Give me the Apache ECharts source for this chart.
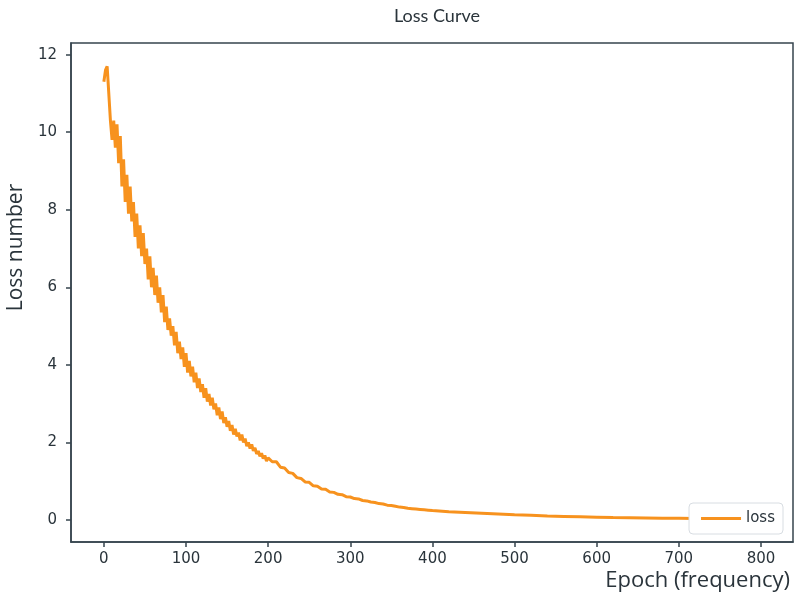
<!DOCTYPE html>
<html>
<head>
    <meta charset="utf-8"/>
    <title>Loss Curve</title>
    <script src="https://cdn.jsdelivr.net/npm/echarts@6/dist/echarts.min.js"></script>
</head>
<body style="margin:0">
<div id="main" style="width: 800px;height:608px;"></div>
<script type="text/javascript">
    // loss, one value every 2 epochs (0 .. 200)
    var lossEarly = [
        11.3, 11.6, 11.7, 11.0, 10.3, 9.8, 10.3, 9.6, 10.2, 9.2,
        9.9, 8.6, 9.3, 8.2, 8.9, 7.9, 8.6, 7.7, 8.2, 7.3,
        7.9, 7.0, 7.6, 6.8, 7.4, 6.6, 7.0, 6.2, 6.8, 6.0,
        6.5, 5.8, 6.3, 5.6, 6.0, 5.35, 5.8, 5.1, 5.5, 4.9,
        5.2, 4.75, 5.0, 4.5, 4.85, 4.3, 4.6, 4.15, 4.45, 3.95,
        4.3, 3.8, 4.1, 3.7, 3.95, 3.55, 3.8, 3.4, 3.65, 3.3,
        3.5, 3.15, 3.4, 3.05, 3.25, 2.95, 3.15, 2.85, 3.0, 2.7,
        2.9, 2.6, 2.8, 2.5, 2.65, 2.4, 2.55, 2.3, 2.45, 2.2,
        2.35, 2.15, 2.25, 2.05, 2.2, 2.0, 2.1, 1.9, 2.0, 1.84,
        1.95, 1.78, 1.86, 1.7, 1.78, 1.64, 1.72, 1.58, 1.66, 1.52,
        1.6
    ];
    // one value every 5 epochs (205 .. 400)
    var lossMid = [
        1.5, 1.5, 1.36, 1.34, 1.22, 1.2, 1.09, 1.07, 0.98, 0.97,
        0.88, 0.87, 0.8, 0.79, 0.72, 0.71, 0.66, 0.65, 0.6, 0.59,
        0.55, 0.54, 0.5, 0.49, 0.46, 0.45, 0.42, 0.41, 0.38, 0.37,
        0.35, 0.33, 0.32, 0.3, 0.29, 0.28, 0.27, 0.26, 0.25, 0.24
    ];
    // one value every 20 epochs (420 .. 800)
    var lossLate = [
        0.21, 0.19, 0.17, 0.15, 0.13, 0.12, 0.1, 0.09, 0.08, 0.07,
        0.06, 0.055, 0.05, 0.045, 0.04, 0.035, 0.032, 0.03, 0.028, 0.025
    ];
    var xTicks = [0, 100, 200, 300, 400, 500, 600, 700, 800];
    var yTicks = [0, 2, 4, 6, 8, 10, 12];

    var points = [];
    lossEarly.forEach(function (v, i) { points.push([i * 2, v]); });
    lossMid.forEach(function (v, i) { points.push([205 + i * 5, v]); });
    lossLate.forEach(function (v, i) { points.push([420 + i * 20, v]); });

    var axisColor = '#36444e';
    var textColor = '#2a343b';

    var myChart = echarts.init(document.getElementById('main'));
    var option = {
        backgroundColor: '#fff',
        animation: false,
        title: {
            text: 'Loss Curve',
            left: 432,
            top: 2,
            textAlign: 'center',
            textStyle: {fontFamily: 'Lato', fontWeight: 'normal', fontSize: 18, color: textColor}
        },
        grid: {
            left: 71, right: 7, top: 43, bottom: 66,
            containLabel: false,
            outerBoundsMode: 'none',
            show: true, borderColor: axisColor, borderWidth: 1.5
        },
        legend: {
            right: 17,
            top: 503,
            backgroundColor: '#fff',
            borderColor: '#d8dde2',
            borderWidth: 1,
            borderRadius: 4,
            padding: [8, 8, 8, 12],
            icon: 'rect',
            itemWidth: 40,
            itemHeight: 3,
            itemGap: 8,
            textStyle: {fontFamily: 'DejaVu Sans', fontSize: 15, color: textColor},
            data: ['loss']
        },
        xAxis: {
            type: 'value',
            min: -40,
            max: 839,
            name: 'Epoch (frequency)',
            nameLocation: 'end',
            nameGap: -3,
            nameTextStyle: {
                fontFamily: 'Open Sans', fontSize: 22, color: textColor,
                align: 'right', verticalAlign: 'top', padding: [28, 0, 0, 0]
            },
            axisLine: {show: true, onZero: false, lineStyle: {color: axisColor, width: 1.5}},
            axisTick: {show: true, length: 5, customValues: xTicks, lineStyle: {color: axisColor, width: 1.5}},
            splitLine: {show: false},
            axisLabel: {
                margin: 10,
                customValues: xTicks,
                fontFamily: 'DejaVu Sans', fontSize: 15, color: textColor
            }
        },
        yAxis: {
            type: 'value',
            min: -0.57,
            max: 12.3,
            name: 'Loss number',
            nameLocation: 'middle',
            nameGap: 44,
            nameTextStyle: {
                fontFamily: 'Open Sans', fontSize: 21, color: textColor,
                padding: [0, 0, 0, 90]
            },
            axisLine: {show: true, onZero: false, lineStyle: {color: axisColor, width: 1.5}},
            axisTick: {show: true, length: 5, customValues: yTicks, lineStyle: {color: axisColor, width: 1.5}},
            splitLine: {show: false},
            axisLabel: {
                margin: 14,
                customValues: yTicks,
                fontFamily: 'DejaVu Sans', fontSize: 15, color: textColor
            }
        },
        series: [
            {
                name: 'loss',
                type: 'line',
                symbol: 'none',
                data: points,
                lineStyle: {color: '#f7921e', width: 3},
                itemStyle: {color: '#f7921e'}
            }
        ]
    };
    myChart.setOption(option);
</script>
</body>
</html>
